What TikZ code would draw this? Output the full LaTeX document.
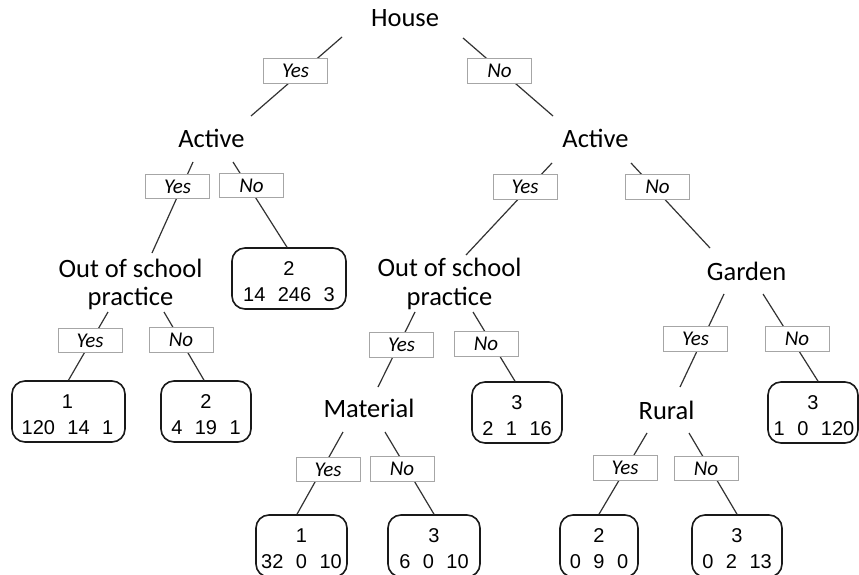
\documentclass[tikz,border=0pt]{standalone}
\usepackage{fontspec}
\setmainfont{Carlito}
\newfontfamily\leaffont{Liberation Sans}
\newcommand\gp{\hspace{12.5pt}}
\tikzset{
  split/.style={inner sep=0pt, anchor=base, font=\fontsize{26.5}{29}\selectfont},
  lab/.style={draw=black!35, line width=0.9pt, fill=white, minimum width=64pt, minimum height=24.5pt, inner sep=0pt, font=\fontsize{21}{24}\selectfont\itshape},
  leafbox/.style={draw=black!90, line width=1.6pt, rounded corners=13pt, inner sep=0pt},
  cls/.style={inner sep=0pt, font=\leaffont\fontsize{20}{23}\selectfont},
  edge/.style={draw=black!80, line width=1.2pt}
}
\begin{document}
\begin{tikzpicture}[x=1pt,y=-1pt]
\useasboundingbox (0,0) rectangle (859,575);
\clip (0,0) rectangle (859,575);
\fill[white] (0,0) rectangle (859,575);

% split nodes
\node[split] (house) at (405,27) {House};
\node[split] (actL) at (211.5,147) {Active};
\node[split] (actR) at (595.5,147) {Active};
\node[split] (ospLa) at (130.5,277) {Out of school};
\node[split] (ospLb) at (130.5,305.5) {practice};
\node[split] (ospRa) at (449.5,276) {Out of school};
\node[split] (ospRb) at (449.5,305.5) {practice};
\node[split] (mat) at (369,417) {Material};
\node[split] (gard) at (746.5,280) {Garden};
\node[split] (rur) at (666.5,419) {Rural};

% leaves: boxes
\node[leafbox, minimum width=114pt, minimum height=61pt] (lfA) at (289,278.5) {};
\node[leafbox, minimum width=113pt, minimum height=61pt] (lf1) at (68.5,411.5) {};
\node[leafbox, minimum width=90pt, minimum height=61pt] (lf2) at (206,411.5) {};
\node[leafbox, minimum width=90pt, minimum height=61pt] (lf3) at (517,412.5) {};
\node[leafbox, minimum width=90pt, minimum height=61pt] (lf4) at (813,412.5) {};
\node[leafbox, minimum width=91pt, minimum height=62pt] (lf5) at (301.5,546) {};
\node[leafbox, minimum width=92pt, minimum height=62pt] (lf6) at (434,546) {};
\node[leafbox, minimum width=78pt, minimum height=62pt] (lf7) at (599,546) {};
\node[leafbox, minimum width=90pt, minimum height=62pt] (lf8) at (737,546) {};

% leaves: texts
\node[cls] (lfAc) at (289,268.5) {2};
\node[cls] (lfAn) at (289,294.5) {14\gp 246\gp 3};
\node[cls] (lf1c) at (67.5,401.5) {1};
\node[cls] (lf1n) at (67.5,427.5) {120\gp 14\gp 1};
\node[cls] (lf2c) at (206,401.5) {2};
\node[cls] (lf2n) at (206,427.5) {4\gp 19\gp 1};
\node[cls] (lf3c) at (517,402.5) {3};
\node[cls] (lf3n) at (517,428.5) {2\gp 1\gp 16};
\node[cls] (lf4c) at (813,402.5) {3};
\node[cls] (lf4n) at (814,428.5) {1\gp 0\gp 120};
\node[cls] (lf5c) at (301.5,535.5) {1};
\node[cls] (lf5n) at (301.5,561.5) {32\gp 0\gp 10};
\node[cls] (lf6c) at (434,535.5) {3};
\node[cls] (lf6n) at (434,561.5) {6\gp 0\gp 10};
\node[cls] (lf7c) at (599,535.5) {2};
\node[cls] (lf7n) at (599,561.5) {0\gp 9\gp 0};
\node[cls] (lf8c) at (737,535.5) {3};
\node[cls] (lf8n) at (737,561.5) {0\gp 2\gp 13};

% connector end points
\coordinate (houseL) at (342,37);
\coordinate (houseR) at (463,38);
\coordinate (actLtop) at (251,116);
\coordinate (actRtop) at (553,116);
\coordinate (actLL) at (193,162);
\coordinate (actLR) at (233,162);
\coordinate (ospLtop) at (152,253);
\coordinate (actRL) at (552,163);
\coordinate (actRR) at (631,163);
\coordinate (ospRtop) at (466,255);
\coordinate (gardtop) at (710,248);
\coordinate (ospLL) at (108,312);
\coordinate (ospLR) at (164,312);
\coordinate (ospRL) at (415,312);
\coordinate (ospRR) at (473,312);
\coordinate (mattop) at (378,387);
\coordinate (matL) at (343,432);
\coordinate (matR) at (385,432);
\coordinate (gardL) at (724,294);
\coordinate (gardR) at (763,294);
\coordinate (rurtop) at (680,387);
\coordinate (rurL) at (647,433);
\coordinate (rurR) at (689,433);

% connectors
\draw[edge] (houseL) -- (actLtop);
\draw[edge] (houseR) -- (actRtop);
\draw[edge] (actLL) -- (ospLtop);
\draw[edge] (actLR) -- ([xshift=-2pt]lfA.north);
\draw[edge] (actRL) -- (ospRtop);
\draw[edge] (actRR) -- (gardtop);
\draw[edge] (ospLL) -- (lf1.north);
\draw[edge] (ospLR) -- ([xshift=-2pt]lf2.north);
\draw[edge] (ospRL) -- (mattop);
\draw[edge] (ospRR) -- ([xshift=-2pt]lf3.north);
\draw[edge] (matL) -- ([xshift=-4.5pt]lf5.north);
\draw[edge] (matR) -- (lf6.north);
\draw[edge] (gardL) -- (rurtop);
\draw[edge] (gardR) -- ([xshift=5pt]lf4.north);
\draw[edge] (rurL) -- (lf7.north);
\draw[edge] (rurR) -- (lf8.north);

% branch labels
\node[lab] (rootY) at (295.5,71) {Yes};
\node[lab] (rootN) at (499.5,71) {No};
\node[lab] (aLY) at (177.5,186.5) {Yes};
\node[lab] (aLN) at (251.5,185.5) {No};
\node[lab] (aRY) at (525,187) {Yes};
\node[lab] (aRN) at (657.5,187) {No};
\node[lab] (oLY) at (90,340.5) {Yes};
\node[lab] (oLN) at (181,340) {No};
\node[lab] (oRY) at (401.5,345) {Yes};
\node[lab] (oRN) at (486,344) {No};
\node[lab] (mY) at (328,469.5) {Yes};
\node[lab] (mN) at (402,469) {No};
\node[lab] (gY) at (695.5,339) {Yes};
\node[lab] (gN) at (797,339) {No};
\node[lab] (rY) at (625,468) {Yes};
\node[lab] (rN) at (706,468.5) {No};
\end{tikzpicture}
\end{document}
